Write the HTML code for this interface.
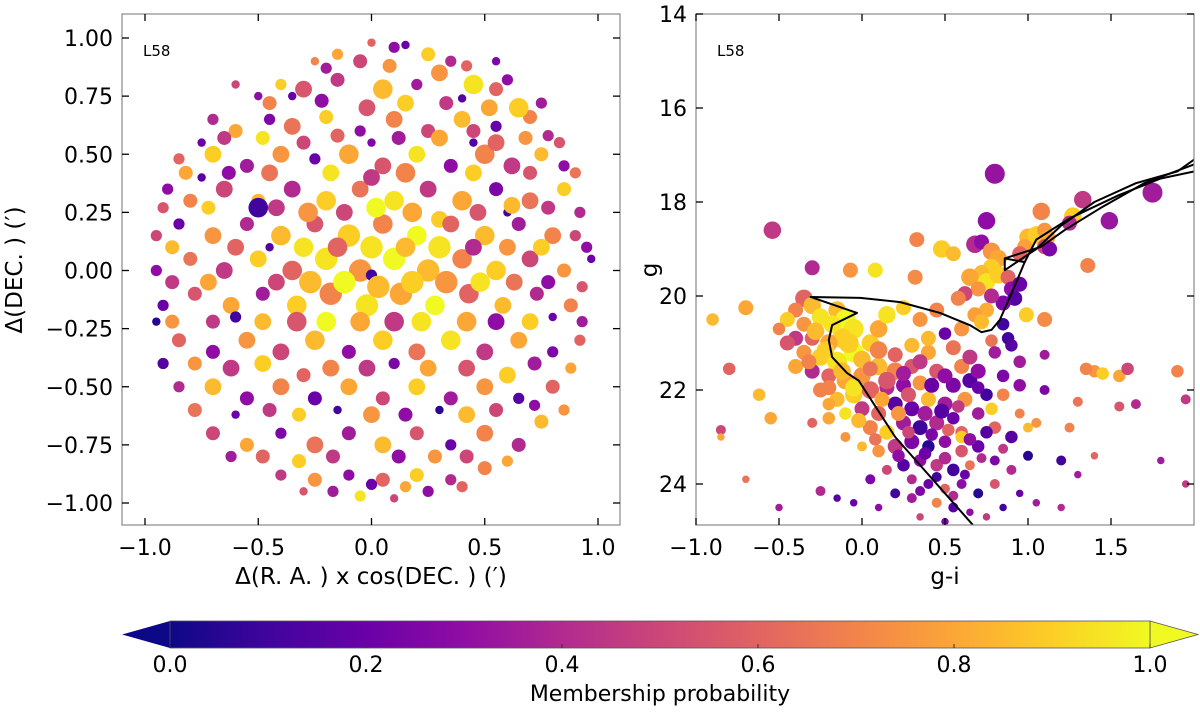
<!DOCTYPE html>
<html><head><meta charset="utf-8"><style>
body{margin:0;background:#fff}
svg text{font-family:"DejaVu Sans","Liberation Sans",sans-serif;fill:#000}
</style></head><body>
<svg id="fig" width="1200" height="713" xmlns="http://www.w3.org/2000/svg">
<defs>
<clipPath id="clipL"><rect x="122" y="14" width="498" height="511"/></clipPath>
<clipPath id="clipR"><rect x="696" y="14" width="498" height="511"/></clipPath>
<linearGradient id="plasmaGrad" x1="0" x2="1" y1="0" y2="0">
<stop offset="0" stop-color="#0d0887"/><stop offset="0.1" stop-color="#41049d"/><stop offset="0.2" stop-color="#6a00a8"/><stop offset="0.3" stop-color="#8f0da4"/><stop offset="0.4" stop-color="#b12a90"/><stop offset="0.5" stop-color="#cc4778"/><stop offset="0.6" stop-color="#e16462"/><stop offset="0.7" stop-color="#f2844b"/><stop offset="0.8" stop-color="#fca636"/><stop offset="0.9" stop-color="#fcce25"/><stop offset="1" stop-color="#f0f921"/>
</linearGradient>
</defs>
<g id="leftPts" clip-path="url(#clipL)"></g>
<g id="rightPts" clip-path="url(#clipR)"></g>
<g id="iso" clip-path="url(#clipR)"></g>
<rect x="122" y="14" width="498" height="511" fill="none" stroke="#888" stroke-width="1.2"/>
<rect x="696" y="14" width="498" height="511" fill="none" stroke="#888" stroke-width="1.2"/>
<g id="axesL"></g><g id="axesR"></g>
<text x="143" y="56" font-size="15">L58</text>
<text x="717" y="56" font-size="15">L58</text>
<text x="371" y="584" font-size="23" text-anchor="middle">Δ(R. A. ) x cos(DEC. ) (′)</text>
<text transform="translate(22,270) rotate(-90)" font-size="23" text-anchor="middle">Δ(DEC. ) (′)</text>
<text x="945" y="584" font-size="23" text-anchor="middle">g-i</text>
<text transform="translate(657,270) rotate(-90)" font-size="23" text-anchor="middle">g</text>
<g>
<polygon points="122,634.5 170,621 170,648" fill="#0d0887"/>
<polygon points="1198,634.5 1150,621 1150,648" fill="#f0f921" stroke="#555" stroke-width="0.8"/>
<rect x="170" y="621" width="980" height="27" fill="url(#plasmaGrad)" stroke="#555" stroke-width="0.8"/>
<g id="cbTicks"></g>
<text x="660" y="701" font-size="22" text-anchor="middle">Membership probability</text>
</g>
</svg>
<script>
const leftStars=[[-0.15,0.93,.8,4],[0.0,0.98,.6,3],[0.1,0.96,.3,4],[0.15,0.97,.2,3],[0.25,0.93,.9,5],[-0.05,0.9,.5,5],[0.35,0.9,.4,4],[-0.25,0.9,.7,3],
[-0.5,0.75,.3,3],[-0.4,0.8,.9,4],[-0.3,0.78,.55,6],[-0.15,0.82,.45,5],[0.05,0.78,.85,7],[0.2,0.8,.35,4],[0.3,0.85,.75,6],[0.45,0.8,.95,7],[0.55,0.78,.6,5],[0.6,0.82,.3,4],[-0.6,0.8,.5,3],[0.4,0.74,.15,3],
[-0.7,0.65,.4,4],[-0.6,0.6,.8,5],[-0.45,0.65,.25,4],[-0.35,0.62,.65,6],[-0.2,0.66,.9,5],[-0.05,0.6,.3,4],[0.1,0.65,.7,6],[0.25,0.6,.5,5],[0.4,0.65,.85,6],[0.55,0.62,.2,4],[0.7,0.66,.7,5],[0.78,0.58,.4,4],[0.65,0.7,.9,7],[-0.75,0.55,.2,3],
[-0.85,0.48,.6,4],[-0.7,0.5,.9,6],[-0.55,0.45,.35,5],[-0.4,0.5,.75,6],[-0.25,0.48,.2,4],[-0.1,0.5,.8,7],[0.05,0.45,.55,6],[0.2,0.5,.95,6],[0.35,0.45,.3,5],[0.5,0.5,.7,7],[0.62,0.45,.45,6],[0.75,0.5,.85,5],[0.85,0.45,.3,4],[0.55,0.55,.6,6],[-0.3,0.55,.5,5],[0.0,0.55,.25,3],
[-0.9,0.35,.3,4],[-0.8,0.3,.7,5],[-0.65,0.35,.5,6],[-0.5,0.3,.85,5],[-0.35,0.35,.4,6],[-0.2,0.3,.9,7],[-0.05,0.35,.65,6],[0.1,0.3,.95,7],[0.25,0.35,.45,6],[0.4,0.3,.8,7],[0.55,0.35,.25,5],[0.7,0.3,.65,6],[0.85,0.35,.9,5],[0.92,0.25,.4,4],[-0.5,0.27,.1,7],[0.3,0.22,.9,6],
[-0.95,0.15,.5,4],[-0.85,0.2,.2,4],[-0.7,0.15,.75,6],[-0.55,0.2,.4,5],[-0.4,0.15,.85,7],[-0.25,0.2,.55,6],[-0.1,0.15,.9,8],[0.05,0.2,.7,7],[0.2,0.15,1.0,7],[0.35,0.2,.6,6],[0.5,0.15,.85,7],[0.65,0.2,.35,5],[0.8,0.15,.7,6],[0.95,0.1,.3,4],
[-0.95,0.0,.3,4],[-0.8,0.05,.65,5],[-0.65,0.0,.45,6],[-0.5,0.05,.9,6],[-0.35,0.0,.6,7],[-0.2,0.05,.95,8],[-0.05,0.0,.75,8],[0.1,0.05,1.0,8],[0.25,0.0,.85,8],[0.4,0.05,.7,7],[0.55,0.0,.9,7],[0.7,0.05,.5,6],[0.85,0.0,.75,5],[0.97,0.05,.2,3],[0.0,-0.02,.1,4],
[-0.92,-0.15,.2,4],[-0.78,-0.1,.55,5],[-0.62,-0.15,.8,6],[-0.48,-0.1,.35,5],[-0.33,-0.15,.9,7],[-0.18,-0.1,.7,8],[-0.02,-0.15,.95,8],[0.13,-0.1,.8,8],[0.28,-0.15,1.0,7],[0.43,-0.1,.6,7],[0.58,-0.15,.85,6],[0.73,-0.1,.4,5],[0.88,-0.15,.7,5],[-0.95,-0.22,.05,3],
[-0.85,-0.3,.6,5],[-0.7,-0.35,.3,5],[-0.55,-0.3,.75,6],[-0.4,-0.35,.5,6],[-0.25,-0.3,.85,7],[-0.1,-0.35,.3,5],[0.05,-0.3,.9,7],[0.2,-0.35,.65,6],[0.35,-0.3,.95,7],[0.5,-0.35,.45,6],[0.65,-0.3,.8,6],[0.8,-0.35,.25,4],[0.92,-0.3,.6,4],
[-0.85,-0.5,.4,4],[-0.7,-0.5,.85,6],[-0.55,-0.55,.3,5],[-0.4,-0.5,.7,6],[-0.25,-0.55,.2,5],[-0.1,-0.5,.8,6],[0.05,-0.55,.5,5],[0.2,-0.5,.9,6],[0.35,-0.55,.35,5],[0.5,-0.5,.75,6],[0.65,-0.55,.15,4],[0.8,-0.5,.6,5],[0.6,-0.45,.9,6],[-0.3,-0.45,.6,5],
[-0.7,-0.7,.5,5],[-0.55,-0.75,.8,5],[-0.4,-0.7,.25,4],[-0.25,-0.75,.65,6],[-0.1,-0.7,.35,5],[0.05,-0.75,.85,6],[0.2,-0.7,.55,5],[0.35,-0.75,.2,4],[0.5,-0.7,.7,6],[0.65,-0.75,.4,5],[0.75,-0.65,.85,5],[-0.6,-0.62,.2,3],
[-0.4,-0.88,.45,4],[-0.25,-0.9,.75,5],[-0.1,-0.88,.3,4],[0.05,-0.9,.6,5],[0.2,-0.88,.9,5],[0.35,-0.9,.4,4],[0.5,-0.85,.7,5],[-0.05,-0.97,.95,4],[0.1,-0.98,.5,3],[0.25,-0.95,.3,4],
[-0.45,0.1,.15,3],[0.6,0.25,.1,3],[-0.15,-0.6,.1,3],[0.3,-0.6,.05,3],[0.45,0.55,.15,3],[-0.6,-0.2,.1,4],[0.8,-0.2,.2,3],[-0.35,0.75,.2,3],[0.1,-0.4,.25,4],[-0.75,0.4,.15,3],
[-0.2,0.87,.35,4],[0.08,0.88,.75,5],[0.42,0.88,.6,4],[0.55,0.9,.25,3],[-0.45,0.72,.7,5],[-0.22,0.73,.3,5],[-0.02,0.7,.55,6],[0.15,0.72,.9,6],[0.33,0.72,.45,5],[0.52,0.7,.8,6],[0.75,0.72,.35,4],
[-0.65,0.57,.45,5],[-0.48,0.57,.95,5],[-0.15,0.58,.6,5],[0.12,0.57,.35,5],[0.3,0.57,.8,6],[0.45,0.6,.5,5],[0.68,0.57,.75,5],[0.83,0.55,.55,4],
[-0.82,0.42,.8,5],[-0.63,0.42,.3,5],[-0.45,0.42,.65,6],[-0.18,0.42,.95,6],[0.0,0.4,.45,6],[0.15,0.42,.7,7],[0.45,0.42,.9,6],[0.7,0.42,.55,5],[0.9,0.42,.65,4],
[-0.92,0.27,.55,4],[-0.72,0.27,.9,5],[-0.42,0.27,.45,6],[-0.28,0.25,.75,7],[-0.12,0.25,.5,6],[0.02,0.27,1.0,7],[0.18,0.25,.8,7],[0.47,0.25,.55,6],[0.62,0.28,.85,6],[0.78,0.27,.45,5],
[-0.88,0.1,.85,5],[-0.6,0.1,.6,6],[-0.3,0.1,.95,7],[-0.15,0.1,.6,7],[0.0,0.1,.95,8],[0.15,0.1,.85,7],[0.3,0.1,.95,8],[0.45,0.1,.4,6],[0.6,0.1,.75,6],[0.75,0.1,.9,6],[0.9,0.15,.5,4],
[-0.88,-0.05,.45,5],[-0.72,-0.05,.8,6],[-0.42,-0.05,.5,6],[-0.27,-0.05,.85,8],[-0.12,-0.05,1.0,8],[0.03,-0.07,.85,8],[0.18,-0.05,.9,8],[0.33,-0.05,.75,8],[0.48,-0.05,.95,7],[0.63,-0.05,.65,6],[0.78,-0.05,.3,5],[0.93,-0.07,.55,4],
[-0.88,-0.22,.75,5],[-0.7,-0.22,.45,5],[-0.48,-0.22,.85,6],[-0.33,-0.22,.55,7],[-0.2,-0.22,1.0,7],[-0.05,-0.22,.8,7],[0.1,-0.22,.45,7],[0.22,-0.22,.95,7],[0.42,-0.22,.8,7],[0.55,-0.22,.3,6],[0.7,-0.22,.9,6],[0.93,-0.22,.35,4],
[-0.92,-0.4,.15,4],[-0.78,-0.4,.75,5],[-0.62,-0.42,.45,6],[-0.48,-0.4,.9,6],[-0.18,-0.42,.7,6],[-0.02,-0.42,.45,6],[0.25,-0.42,.8,6],[0.42,-0.42,.55,6],[0.72,-0.4,.35,5],[0.88,-0.42,.8,4],
[-0.78,-0.6,.65,5],[-0.45,-0.6,.45,5],[-0.32,-0.62,.9,5],[0.0,-0.62,.75,6],[0.15,-0.62,.3,5],[0.42,-0.62,.85,6],[0.55,-0.6,.5,5],[0.72,-0.58,.3,4],[0.85,-0.6,.75,4],
[-0.62,-0.8,.35,4],[-0.48,-0.8,.6,5],[-0.32,-0.82,.9,5],[-0.17,-0.8,.45,5],[0.12,-0.8,.3,5],[0.28,-0.8,.75,5],[0.42,-0.8,.5,5],[0.6,-0.82,.8,4],
[-0.3,-0.95,.55,3],[-0.17,-0.95,.35,4],[0.0,-0.92,.2,4],[0.15,-0.93,.8,4],[0.4,-0.93,.6,4]];

const cmdStars=[[-0.54,18.6,.45,7],[0.80,17.4,.32,8],[1.75,17.8,.35,8],[1.49,18.4,.33,7],[1.08,18.2,.7,7],[1.33,17.95,.45,7],[1.27,18.3,.9,7],[1.25,18.45,.4,6],[0.75,18.4,.3,7],[0.33,18.8,.7,6],[0.48,19.0,.9,7],[0.55,19.1,.85,6],[1.36,19.35,.7,6],[-0.3,19.4,.4,6],[0.08,19.45,.95,6],[-0.07,19.45,.75,6],[0.32,19.6,.72,6],[0.99,20.4,.9,6],[1.1,20.5,.72,6],
[1.0,18.75,.85,7],[1.05,18.7,.9,7],[1.1,18.6,.75,6],[1.12,18.75,.8,6],[0.98,18.95,.78,6],[1.1,18.95,.5,6],[1.13,19.0,.25,6],[0.95,19.1,.6,6],[0.68,18.9,.4,7],[0.72,18.85,.3,6],[0.78,19.05,.75,7],[0.82,19.2,.8,7],[0.78,19.4,.9,7],[0.72,19.5,.85,6],[0.65,19.6,.8,7],[0.75,19.7,.95,7],[0.82,19.55,.9,7],[0.88,19.6,.6,6],[0.9,19.85,.3,6],[0.95,19.75,.2,6],[0.92,20.05,.15,6],[0.85,20.15,.25,6],[0.78,20.0,.4,6],[0.7,19.85,.75,6],[0.62,19.95,.5,6],[0.75,20.3,.82,6],[0.68,20.4,.78,6],[0.72,20.55,.85,6],[0.85,20.6,.1,5],[0.88,20.9,.1,5],[0.9,21.05,.15,5],[0.78,20.95,.65,5],[0.95,21.4,.35,5],[0.95,21.9,.3,5],[0.58,20.05,.7,6],
[-0.7,20.25,.8,6],[-0.9,20.5,.85,5],[-0.8,21.55,.6,5],[-0.62,22.1,.85,5],[-0.55,22.6,.8,5],[-0.85,22.85,.5,4],[-0.85,23.0,.8,3],[1.4,21.6,.75,5],[1.45,21.65,.9,5],[1.55,21.7,.8,5],[1.35,21.55,.7,5],[1.6,21.55,.5,5],[1.9,21.6,.7,5],[1.95,22.2,.45,4],[1.65,22.3,.4,4],[1.55,22.35,.55,4],[1.3,22.25,.65,4],[1.1,21.25,.35,4],[1.1,22.0,.25,4],[1.25,22.8,.7,4],[1.3,23.8,.35,3],[1.2,23.5,.1,4],[1.4,23.4,.6,3],[1.8,23.5,.35,3],[1.95,24.0,.45,3],[-0.7,23.9,.65,3],[-0.5,24.5,.35,3],[-0.25,24.15,.4,4],
[-0.35,20.05,.6,7],[-0.3,20.2,.85,7],[-0.4,20.3,.7,6],[-0.45,20.5,.9,6],[-0.35,20.6,.75,6],[-0.25,20.45,.95,7],[-0.15,20.3,.85,7],[-0.1,20.5,1.0,8],[-0.05,20.7,.95,8],[-0.12,20.9,.9,8],[-0.2,21.0,.8,7],[-0.3,20.9,.6,6],[-0.4,20.9,.45,6],[-0.35,21.2,.75,6],[-0.25,21.3,.9,7],[-0.15,21.4,.95,8],[-0.05,21.2,1.0,8],[0.05,21.0,.9,7],[0.1,20.7,.8,7],[0.15,20.4,.95,7],[0.25,20.25,.9,6],[0.35,20.5,.75,6],[0.45,20.3,.7,6],[0.5,20.8,.2,5],[0.55,21.1,.65,6],[0.4,21.2,.8,6],[0.3,21.5,.55,6],[0.2,21.6,.7,7],[0.1,21.5,.85,7],[0.0,21.7,.75,7],[-0.1,21.8,.8,7],[-0.2,21.7,.6,6],[-0.3,21.6,.4,6],[-0.25,22.0,.7,6],[-0.15,22.2,.85,6],[-0.05,22.1,.9,7],[0.05,22.0,.6,7],[0.15,21.95,.4,6],[0.25,21.9,.3,6],[0.35,21.85,.75,6],[0.45,21.6,.55,6],[0.55,21.9,.25,6],[0.6,21.5,.7,6],[0.65,21.8,.15,6],[0.7,21.6,.3,6],[0.75,22.1,.1,5],[0.62,22.2,.75,6],[0.5,22.3,.35,6],[0.4,22.2,.85,6],[0.3,22.4,.2,6],[0.2,22.3,.15,6],[0.1,22.5,.6,6],[0.0,22.4,.45,6],[-0.1,22.5,.95,5],[-0.2,22.6,.8,5],[0.05,22.8,.7,6],[0.15,22.9,.9,6],[0.25,22.7,.35,6],[0.35,22.8,.1,6],[0.45,22.7,.4,6],[0.55,22.6,.2,5],[0.6,22.9,.6,5],[0.7,22.5,.35,5],[0.8,22.8,.6,5],[0.9,23.0,.15,5],[0.3,23.1,.25,6],[0.2,23.2,.45,6],[0.1,23.3,.75,5],[0.4,23.2,.05,5],[0.5,23.1,.3,5],[0.6,23.3,.55,5],[0.7,23.2,.2,5],[0.35,23.5,.3,5],[0.25,23.6,.15,5],[0.45,23.6,.45,5],[0.55,23.7,.1,5],[0.65,23.6,.65,4],[0.8,23.5,.25,4],[0.9,23.7,.4,4],[1.0,23.4,.05,4],[0.15,23.7,.5,4],[0.05,23.9,.25,4],[0.3,23.9,.4,4],[0.4,24.0,.2,4],[0.5,24.1,.6,4],[0.6,24.0,.3,4],[0.7,24.2,.05,4],[0.8,24.0,.55,4],[0.95,24.2,.2,3],[1.05,24.4,.35,3],[0.2,24.2,.1,4],[0.3,24.3,.35,4],[0.45,24.4,.7,4],[0.55,24.5,.15,4],[0.65,24.6,.3,3],[0.75,24.7,.45,3],[0.85,24.5,.1,3],[0.1,24.5,.3,3],[-0.05,24.4,.2,3],[-0.15,24.3,.15,3],[0.35,24.7,.5,3],[0.5,24.8,.25,3],[1.2,24.5,.4,3],[0.6,23.0,.9,5],[0.78,22.4,.9,5],[0.85,22.1,.7,5],[0.95,22.5,.7,4],[1.0,22.8,.85,4],[1.05,22.7,.75,4],
[-0.4,21.5,.8,6],[-0.45,21.0,.55,6],[-0.5,20.7,.7,5],[-0.2,22.3,.8,5],[-0.1,23.0,.75,4],[0.0,23.2,.85,4],[-0.3,22.7,.6,4],
[-0.28,20.75,.85,7],[-0.18,20.6,.95,7],[-0.08,21.0,.9,8],[0.0,21.35,.85,7],[0.1,21.15,.7,7],[0.2,21.25,.6,6],[0.3,21.05,.85,6],[0.15,21.8,.55,7],[0.25,21.65,.35,6],[0.35,21.4,.45,6],[0.42,21.9,.2,6],[0.5,21.7,.3,6],[0.28,22.1,.55,6],[0.38,22.5,.35,6],[0.48,22.45,.15,6],[0.58,22.35,.45,5],[0.22,22.5,.75,6],[0.12,22.2,.8,6],[-0.02,22.65,.85,6],[0.08,23.05,.65,5],[0.28,22.9,.5,5],[0.42,22.95,.25,5],[0.52,22.85,.6,5],[0.65,23.05,.3,5],[0.75,22.9,.15,5],[0.38,23.35,.2,5],[0.5,23.45,.4,5],[0.22,23.4,.3,5],[0.62,23.8,.2,4],[0.72,23.45,.4,4],[0.45,23.85,.1,4],[0.85,23.25,.45,4],[0.35,24.15,.25,4],[0.55,24.25,.4,4],[-0.22,21.15,.9,7],[-0.32,21.4,.7,6],[-0.12,21.6,.85,7],[-0.05,21.95,.95,7],[-0.2,21.95,.7,6],[0.05,21.55,.65,6],[0.4,20.9,.85,6],[0.6,20.7,.75,6],[0.65,21.3,.45,6],[0.8,21.2,.35,5],[0.7,21.95,.2,5],[0.85,21.7,.25,5]];

const isoMain=[[0.75,25.2],[0.45,24.0],[0.2,23.0],[-0.02,21.8],[-0.09,21.64],[-0.18,21.3],[-0.2,20.94],[-0.18,20.62],[-0.03,20.36],[-0.31,20.02],[-0.01,20.04],[0.23,20.13],[0.47,20.36],[0.65,20.62],[0.72,20.77],[0.78,20.72],[0.83,20.51],[0.91,19.87],[0.98,19.28],[0.86,19.2],[0.86,19.45],[1.05,19.0],[1.2,18.5],[1.4,18.0],[1.65,17.6],[1.9,17.35],[2.0,17.1]];
const isoBranchA=[[0.86,19.2],[1.08,18.95],[1.22,18.6],[1.45,18.1],[1.7,17.6],[2.0,17.2]];
const isoBranchB=[[0.98,19.28],[1.05,18.8],[1.25,18.35],[1.55,17.85],[1.8,17.5],[2.0,17.35]];
const leftXTicks=[-1.0,-0.5,0.0,0.5,1.0];
const leftYTicks=[1.0,0.75,0.5,0.25,0.0,-0.25,-0.5,-0.75,-1.0];
const rightXTicks=[-1.0,-0.5,0.0,0.5,1.0,1.5];
const rightYTicks=[14,16,18,20,22,24];
const cbTicks=[0.0,0.2,0.4,0.6,0.8,1.0];

const NS="http://www.w3.org/2000/svg";
const lx=v=>371.5+v*226.5, ly=v=>270.5-v*232.5;
const rx=v=>696+(v+1)*166, ry=v=>14+(v-14)*47;
const cbx=v=>170+v*980;
const stops=[[13,8,135],[65,4,157],[106,0,168],[143,13,164],[177,42,144],[204,71,120],[225,100,98],[242,132,75],[252,166,54],[252,206,37],[240,249,33]];
function plasma(p){p=Math.max(0,Math.min(1,p));const f=p*10,i=Math.min(9,Math.floor(f)),t=f-i;const a=stops[i],b=stops[i+1];return `rgb(${a.map((c,k)=>Math.round(c+(b[k]-c)*t)).join(',')})`;}
function mk(tag,attrs,parent){const e=document.createElementNS(NS,tag);for(const k in attrs)e.setAttribute(k,attrs[k]);parent.appendChild(e);return e;}
const fmt=(v,d)=>(v<0?'\u2212':'')+Math.abs(v).toFixed(d);

const gL=document.getElementById('leftPts');
leftStars.forEach(s=>{const c=mk('circle',{cx:lx(s[0]),cy:ly(s[1]),r:s[3]*1.4,fill:plasma(s[2])},gL);

});
const gR=document.getElementById('rightPts');
cmdStars.forEach(s=>{const c=mk('circle',{cx:rx(s[0]),cy:ry(s[1]),r:s[3]*1.25,fill:plasma(s[2])},gR);

});
const gI=document.getElementById('iso');
[isoMain,isoBranchA,isoBranchB].forEach(arr=>{const p=mk('polyline',{points:arr.map(d=>rx(d[0])+','+ry(d[1])).join(' '),fill:'none',stroke:'#000','stroke-width':2,'stroke-linejoin':'round'},gI);

});

function axes(gid,xt,yt,fx,fy,x0,x1,y0,y1,xd,yd){const g=document.getElementById(gid);
xt.forEach(v=>{const x=fx(v);mk('line',{x1:x,x2:x,y1:y1,y2:y1-7,stroke:'#000','stroke-width':1.3},g);mk('line',{x1:x,x2:x,y1:y0,y2:y0+7,stroke:'#000','stroke-width':1.3},g);
const t=mk('text',{x:x,y:y1+30,'font-size':22,'text-anchor':'middle'},g);t.textContent=fmt(v,xd);

});
yt.forEach(v=>{const y=fy(v);mk('line',{x1:x0,x2:x0+7,y1:y,y2:y,stroke:'#000','stroke-width':1.3},g);mk('line',{x1:x1,x2:x1-7,y1:y,y2:y,stroke:'#000','stroke-width':1.3},g);
const t=mk('text',{x:x0-9,y:y+8,'font-size':22,'text-anchor':'end'},g);t.textContent=fmt(v,yd);

});}
axes('axesL',leftXTicks,leftYTicks,lx,ly,122,620,14,525,1,2);
axes('axesR',rightXTicks,rightYTicks,rx,ry,696,1194,14,525,1,0);
const gC=document.getElementById('cbTicks');
cbTicks.forEach(v=>{const x=cbx(v);mk('line',{x1:x,x2:x,y1:648,y2:644,stroke:'#333','stroke-width':1},gC);
const t=mk('text',{x:x,y:672,'font-size':22,'text-anchor':'middle'},gC);t.textContent=v.toFixed(1);

});
</script>
</body></html>
